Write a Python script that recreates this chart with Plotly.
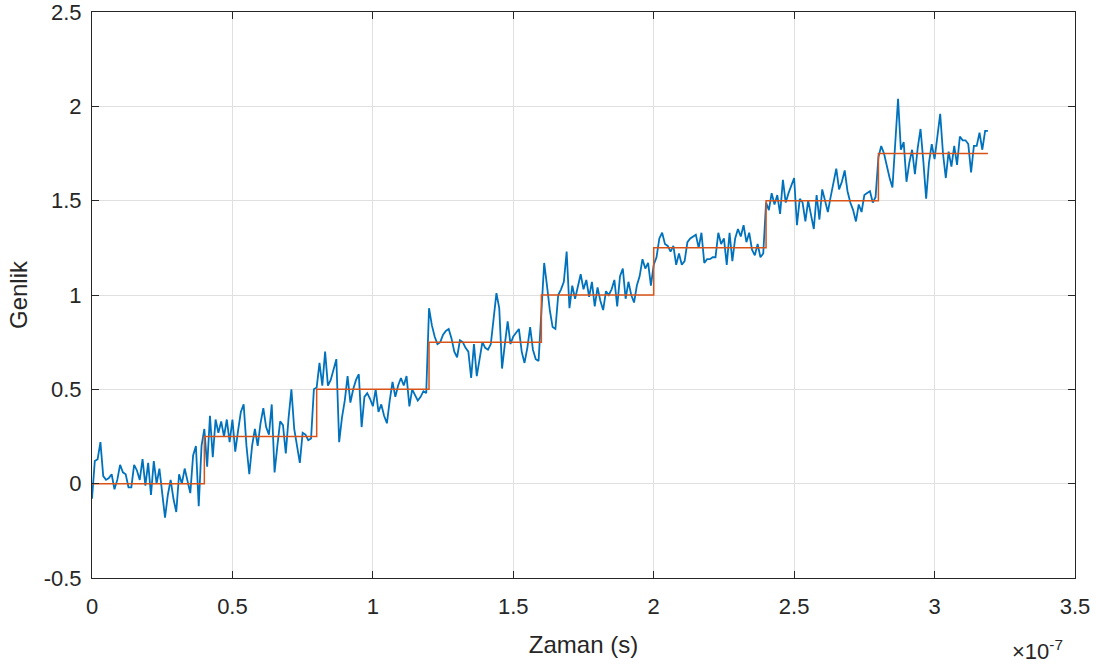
import plotly.graph_objects as go

# Time samples in ns (1 ns spacing) and signal values
sample_ns = list(range(320))
signal = [
    # 0 - 39 ns (level 0)
    -0.08, 0.12, 0.13, 0.22, 0.04, 0.02, 0.03, 0.05, -0.03, 0.02,
    0.10, 0.06, 0.05, -0.02, -0.02, 0.10, 0.07, 0.02, 0.13, -0.01,
    0.11, -0.06, 0.12, 0.00, 0.08, -0.05, -0.18, -0.06, 0.02, -0.08,
    -0.15, 0.05, 0.00, 0.08, 0.02, -0.05, 0.15, 0.20, -0.12, 0.20,
    # 40 - 79 ns (level 0.25)
    0.29, 0.09, 0.36, 0.14, 0.34, 0.27, 0.33, 0.25, 0.34, 0.22,
    0.34, 0.17, 0.28, 0.38, 0.42, 0.20, 0.05, 0.20, 0.29, 0.20,
    0.32, 0.40, 0.30, 0.26, 0.42, 0.06, 0.20, 0.33, 0.31, 0.16,
    0.35, 0.50, 0.29, 0.20, 0.11, 0.27, 0.26, 0.23, 0.24, 0.50,
    # 80 - 119 ns (level 0.5)
    0.51, 0.64, 0.52, 0.70, 0.52, 0.55, 0.60, 0.66, 0.22, 0.35,
    0.44, 0.57, 0.43, 0.50, 0.55, 0.58, 0.30, 0.46, 0.48, 0.45,
    0.41, 0.50, 0.38, 0.42, 0.36, 0.32, 0.44, 0.54, 0.46, 0.52,
    0.56, 0.52, 0.57, 0.41, 0.50, 0.47, 0.44, 0.46, 0.49, 0.48,
    # 120 - 159 ns (level 0.75)
    0.93, 0.84, 0.78, 0.74, 0.75, 0.79, 0.81, 0.82, 0.77, 0.70,
    0.67, 0.76, 0.75, 0.72, 0.70, 0.56, 0.74, 0.57, 0.66, 0.75,
    0.72, 0.71, 0.74, 0.88, 1.01, 0.93, 0.61, 0.74, 0.86, 0.74,
    0.78, 0.80, 0.82, 0.70, 0.64, 0.72, 0.83, 0.71, 0.66, 0.65,
    # 160 - 199 ns (level 1.0)
    0.95, 1.17, 1.05, 0.92, 0.83, 0.82, 1.00, 1.03, 1.07, 1.23,
    0.93, 1.05, 0.98, 1.04, 1.11, 1.03, 1.08, 0.99, 1.07, 0.94,
    1.04, 0.97, 0.92, 1.02, 1.00, 1.03, 1.08, 0.94, 1.10, 1.14,
    0.98, 1.07, 1.00, 0.96, 1.05, 1.10, 1.19, 1.14, 1.17, 1.05,
    # 200 - 239 ns (level 1.25)
    1.16, 1.20, 1.30, 1.33, 1.27, 1.26, 1.23, 1.26, 1.16, 1.22,
    1.16, 1.18, 1.28, 1.30, 1.31, 1.32, 1.25, 1.33, 1.17, 1.19,
    1.19, 1.20, 1.20, 1.33, 1.27, 1.30, 1.16, 1.33, 1.18, 1.30,
    1.35, 1.31, 1.37, 1.28, 1.33, 1.24, 1.21, 1.27, 1.20, 1.22,
    # 240 - 279 ns (level 1.5)
    1.49, 1.45, 1.54, 1.48, 1.53, 1.43, 1.61, 1.49, 1.54, 1.58,
    1.62, 1.37, 1.51, 1.49, 1.39, 1.50, 1.42, 1.35, 1.53, 1.40,
    1.56, 1.50, 1.44, 1.52, 1.60, 1.67, 1.56, 1.60, 1.66, 1.55,
    1.49, 1.45, 1.39, 1.48, 1.44, 1.53, 1.54, 1.55, 1.49, 1.52,
    # 280 - 319 ns (level 1.75)
    1.73, 1.79, 1.75, 1.68, 1.62, 1.57, 1.80, 2.04, 1.77, 1.81,
    1.60, 1.70, 1.77, 1.64, 1.78, 1.88, 1.71, 1.51, 1.70, 1.80,
    1.72, 1.85, 1.96, 1.75, 1.62, 1.76, 1.68, 1.79, 1.69, 1.84,
    1.82, 1.82, 1.80, 1.65, 1.79, 1.79, 1.86, 1.77, 1.87, 1.87,
]

# Ideal staircase: step start times (ns) and levels
step_ns = [0, 40, 80, 120, 160, 200, 240, 280, 319]
step_level = [0, 0.25, 0.5, 0.75, 1.0, 1.25, 1.5, 1.75, 1.75]

x_tick_vals = [0, 0.5, 1, 1.5, 2, 2.5, 3, 3.5]
x_tick_text = ["0", "0.5", "1", "1.5", "2", "2.5", "3", "3.5"]
y_tick_vals = [-0.5, 0, 0.5, 1, 1.5, 2, 2.5]
y_tick_text = ["-0.5", "0", "0.5", "1", "1.5", "2", "2.5"]

t_sig = [n * 1e-9 for n in sample_ns]
t_step = [n * 1e-9 for n in step_ns]

FONT = "Liberation Sans, Arial, sans-serif"
INK = "#262626"

fig = go.Figure()
fig.add_trace(go.Scatter(x=t_sig, y=signal, mode="lines",
                         line=dict(color="#0072BD", width=1.8), showlegend=False,
                         hoverinfo="skip"))
fig.add_trace(go.Scatter(x=t_step, y=step_level, mode="lines", line_shape="hv",
                         line=dict(color="#D95319", width=1.5), showlegend=False,
                         hoverinfo="skip"))

axis_common = dict(showgrid=True, gridcolor="#e0e0e0", gridwidth=1,
                   showline=True, linecolor=INK, linewidth=1,
                   mirror="allticks", ticks="inside", ticklen=7, tickcolor=INK,
                   zeroline=False, automargin=False, ticklabeloverflow="allow",
                   tickfont=dict(family=FONT, size=22, color=INK))

fig.update_layout(
    width=1096, height=666,
    margin=dict(l=92, r=21, t=12, b=88),
    paper_bgcolor="white", plot_bgcolor="white",
    xaxis=dict(range=[0, 3.5e-7],
               tickvals=[v * 1e-7 for v in x_tick_vals], ticktext=x_tick_text,
               ticklabelstandoff=9,
               title=dict(text="Zaman (s)", standoff=17,
                          font=dict(family=FONT, size=24, color=INK)),
               **axis_common),
    yaxis=dict(range=[-0.5, 2.5], tickvals=y_tick_vals, ticktext=y_tick_text,
               ticklabelstandoff=5,
               title=dict(text="Genlik", standoff=9,
                          font=dict(family=FONT, size=24, color=INK)),
               **axis_common),
    annotations=[dict(text="×10<sup>-7</sup>", xref="paper", yref="paper",
                      x=1.0, y=0, xanchor="right", yanchor="middle",
                      yshift=-72, xshift=-10, showarrow=False,
                      font=dict(family=FONT, size=22, color=INK))],
)

# remove the default page margin so the figure sits at the window's top-left corner
fig.write_html("out.html", config={"displayModeBar": False},
               post_script="document.body.style.margin='0';")
